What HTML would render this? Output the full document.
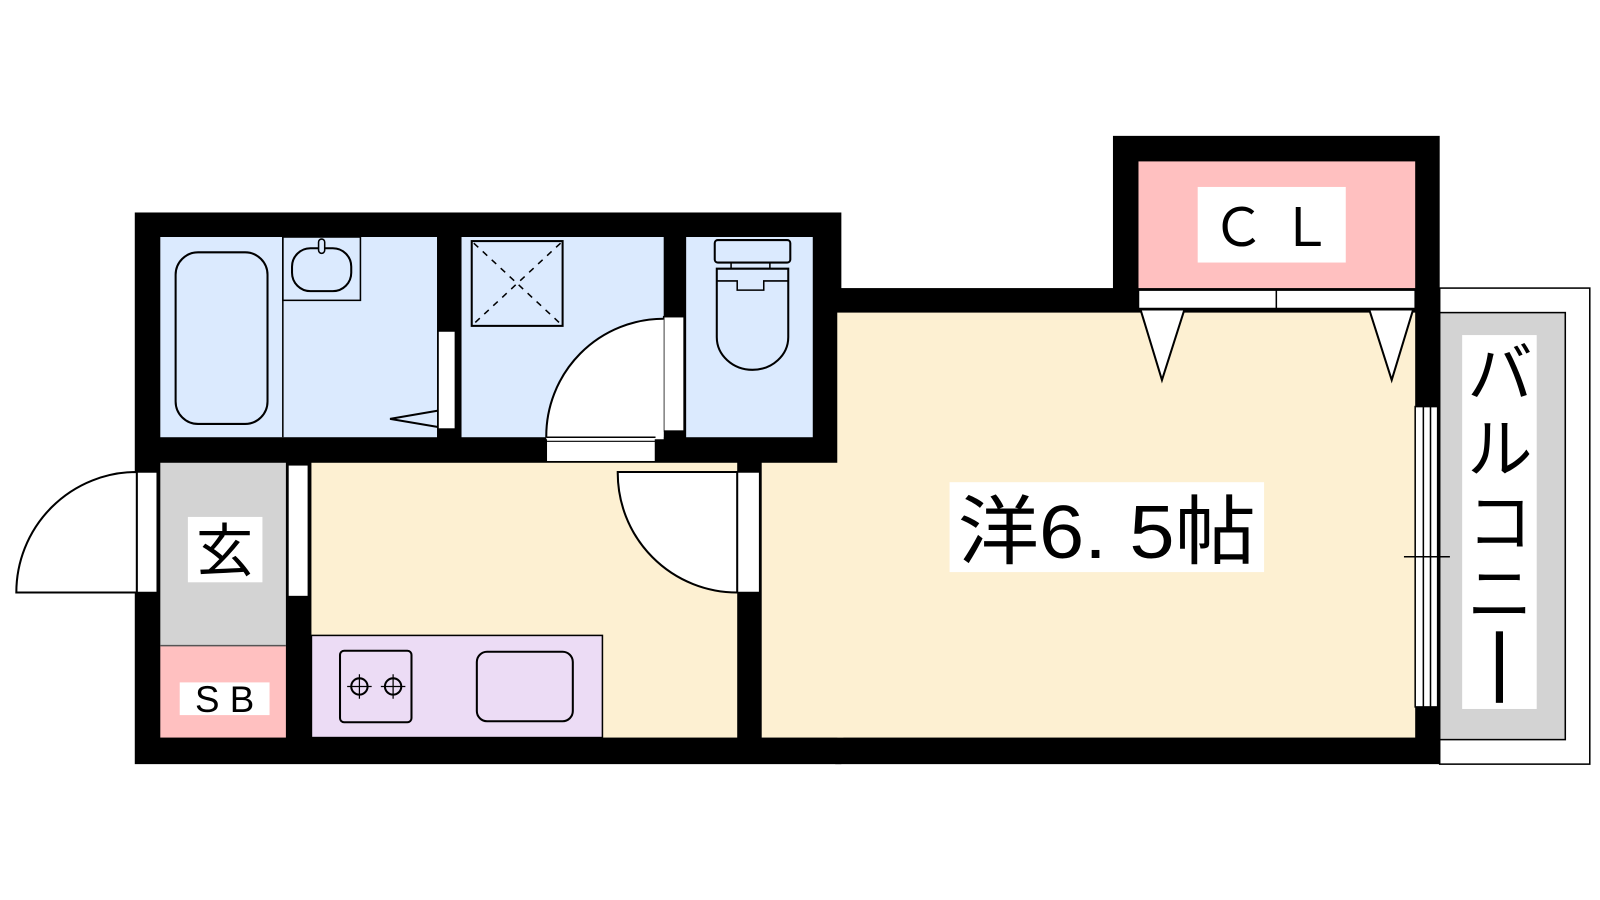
<!DOCTYPE html>
<html><head><meta charset="utf-8"><style>
html,body{margin:0;padding:0;background:#fff;width:1600px;height:900px;overflow:hidden}
svg{display:block}
text{font-family:"Liberation Sans","Noto Sans CJK JP",sans-serif;fill:#000}
</style></head><body>
<svg width="1600" height="900" viewBox="0 0 1567 881" preserveAspectRatio="none" xmlns="http://www.w3.org/2000/svg">
<rect x="132" y="208" width="692" height="540" fill="#000"/>
<rect x="818" y="282" width="592" height="466" fill="#000"/>
<rect x="1090" y="133" width="320" height="160" fill="#000"/>
<rect x="1410" y="282" width="147" height="466" fill="#fff" stroke="#000" stroke-width="1.5"/>
<rect x="1410" y="306" width="123" height="418" fill="#d3d3d3" stroke="#000" stroke-width="1.5"/>
<rect x="157" y="232" width="271" height="196" fill="#dbeafe"/>
<line x1="277" y1="232" x2="277" y2="428" stroke="#000" stroke-width="1.5"/>
<rect x="452" y="232" width="198" height="196" fill="#dbeafe"/>
<rect x="672" y="232" width="124" height="196" fill="#dbeafe"/>
<rect x="172" y="247" width="90" height="168" rx="22" fill="none" stroke="#000" stroke-width="2"/>
<rect x="277" y="232" width="76" height="62" fill="none" stroke="#000" stroke-width="1.5"/>
<rect x="286" y="243" width="58" height="42" rx="18" fill="none" stroke="#000" stroke-width="2"/>
<rect x="312" y="234" width="6" height="14" rx="3" fill="#dbeafe" stroke="#000" stroke-width="1.5"/>
<rect x="462" y="236" width="89" height="83" fill="none" stroke="#000" stroke-width="2"/>
<line x1="464" y1="238" x2="549" y2="317" stroke="#000" stroke-width="1.5" stroke-dasharray="6,6"/>
<line x1="549" y1="238" x2="464" y2="317" stroke="#000" stroke-width="1.5" stroke-dasharray="6,6"/>
<rect x="700" y="235" width="74" height="22" rx="3" fill="none" stroke="#000" stroke-width="2"/>
<rect x="716" y="257" width="38" height="6" fill="none" stroke="#000" stroke-width="1.5"/>
<path d="M702 263 H772 V330 A35 32 0 0 1 702 330 Z" fill="none" stroke="#000" stroke-width="2"/>
<path d="M702 275 H722 V284 H748 V275 H772" fill="none" stroke="#000" stroke-width="1.5"/>
<rect x="429" y="324" width="17" height="96" fill="#fff" stroke="#000" stroke-width="1.5"/>
<path d="M429 402 L382 410 L429 418" fill="none" stroke="#000" stroke-width="2"/>
<rect x="650" y="310" width="20" height="112" fill="#fff" stroke="#000" stroke-width="1.5"/>
<rect x="535" y="428" width="107" height="24" fill="#fff" stroke="#000" stroke-width="1.5"/>
<path d="M535 428 A115 115 0 0 1 650 312 V430 H535 Z" fill="#fff"/>
<path d="M535 428 A115 115 0 0 1 650 312" fill="none" stroke="#000" stroke-width="2"/>
<line x1="535" y1="428" x2="642" y2="428" stroke="#000" stroke-width="1.5"/>
<line x1="535" y1="432" x2="642" y2="432" stroke="#000" stroke-width="1"/>
<rect x="157" y="453" width="123" height="179" fill="#d3d3d3"/>
<rect x="157" y="632" width="123" height="90" fill="#ffc0c0"/>
<line x1="157" y1="632" x2="280" y2="632" stroke="#555" stroke-width="1.5"/>
<rect x="305" y="453" width="417" height="269" fill="#fdf0d2"/>
<rect x="305" y="622" width="285" height="100" fill="#ecdcf5" stroke="#000" stroke-width="1.5"/>
<rect x="333" y="637" width="70" height="70" rx="4" fill="none" stroke="#000" stroke-width="2"/>
<circle cx="352" cy="672" r="8" fill="none" stroke="#000" stroke-width="2"/>
<circle cx="385" cy="672" r="8" fill="none" stroke="#000" stroke-width="2"/>
<path d="M340 672h24M352 660v24M373 672h24M385 660v24" stroke="#000" stroke-width="1.2"/>
<rect x="467" y="638" width="94" height="68" rx="10" fill="none" stroke="#000" stroke-width="2"/>
<rect x="282" y="455" width="20" height="129" fill="#fff" stroke="#000" stroke-width="1.5"/>
<rect x="820" y="306" width="566" height="416" fill="#fdf0d2"/>
<rect x="746" y="453" width="80" height="269" fill="#fdf0d2"/>
<rect x="722" y="462" width="22" height="118" fill="#fff" stroke="#000" stroke-width="1.5"/>
<path d="M605 462 H722 V580 A117 117 0 0 1 605 462 Z" fill="#fff" stroke="#000" stroke-width="2"/>
<rect x="134" y="462" width="20" height="118" fill="#fff" stroke="#000" stroke-width="1.5"/>
<path d="M16 580 A118 118 0 0 1 134 462 V580 Z" fill="#fff" stroke="#000" stroke-width="2"/>
<rect x="1115" y="158" width="271" height="124" fill="#ffc0c0"/>
<rect x="1115" y="284" width="271" height="18" fill="#fff" stroke="#000" stroke-width="1.5"/>
<line x1="1250" y1="284" x2="1250" y2="302" stroke="#000" stroke-width="1.5"/>
<path d="M1117 303 L1138 372 L1160 303 Z" fill="#fff" stroke="#000" stroke-width="2"/>
<path d="M1341 303 L1363 372 L1384 303 Z" fill="#fff" stroke="#000" stroke-width="2"/>
<rect x="1386" y="398" width="22" height="294" fill="#fff" stroke="#000" stroke-width="1.5"/>
<line x1="1394" y1="398" x2="1394" y2="692" stroke="#000" stroke-width="1.5"/>
<line x1="1401" y1="398" x2="1401" y2="692" stroke="#000" stroke-width="1.5"/>
<line x1="1375" y1="545" x2="1420" y2="545" stroke="#000" stroke-width="1.5"/>
<rect x="930" y="472" width="308" height="88" fill="#fff"/>
<text x="1084" y="546" font-size="74" text-anchor="middle" textLength="292" lengthAdjust="spacingAndGlyphs">洋6. 5帖</text>
<rect x="1173" y="183" width="145" height="74" fill="#fff"/>
<text x="1246" y="241" font-size="52" text-anchor="middle">Ｃ Ｌ</text>
<rect x="184" y="506" width="73" height="64" fill="#fff"/>
<text x="220" y="559" font-size="56" text-anchor="middle">玄</text>
<rect x="176" y="668" width="88" height="32" fill="#fff"/>
<text x="220" y="697" font-size="36" text-anchor="middle">S B</text>
<rect x="1432" y="328" width="73" height="366" fill="#fff"/>
<text x="1469" y="388" font-size="64" text-anchor="middle">バ</text>
<text x="1469" y="462" font-size="64" text-anchor="middle">ル</text>
<text x="1469" y="534" font-size="64" text-anchor="middle">コ</text>
<text x="1469" y="604" font-size="64" text-anchor="middle">ニ</text>
<rect x="1465" y="618" width="7" height="70" fill="#000"/>
</svg>
</body></html>
